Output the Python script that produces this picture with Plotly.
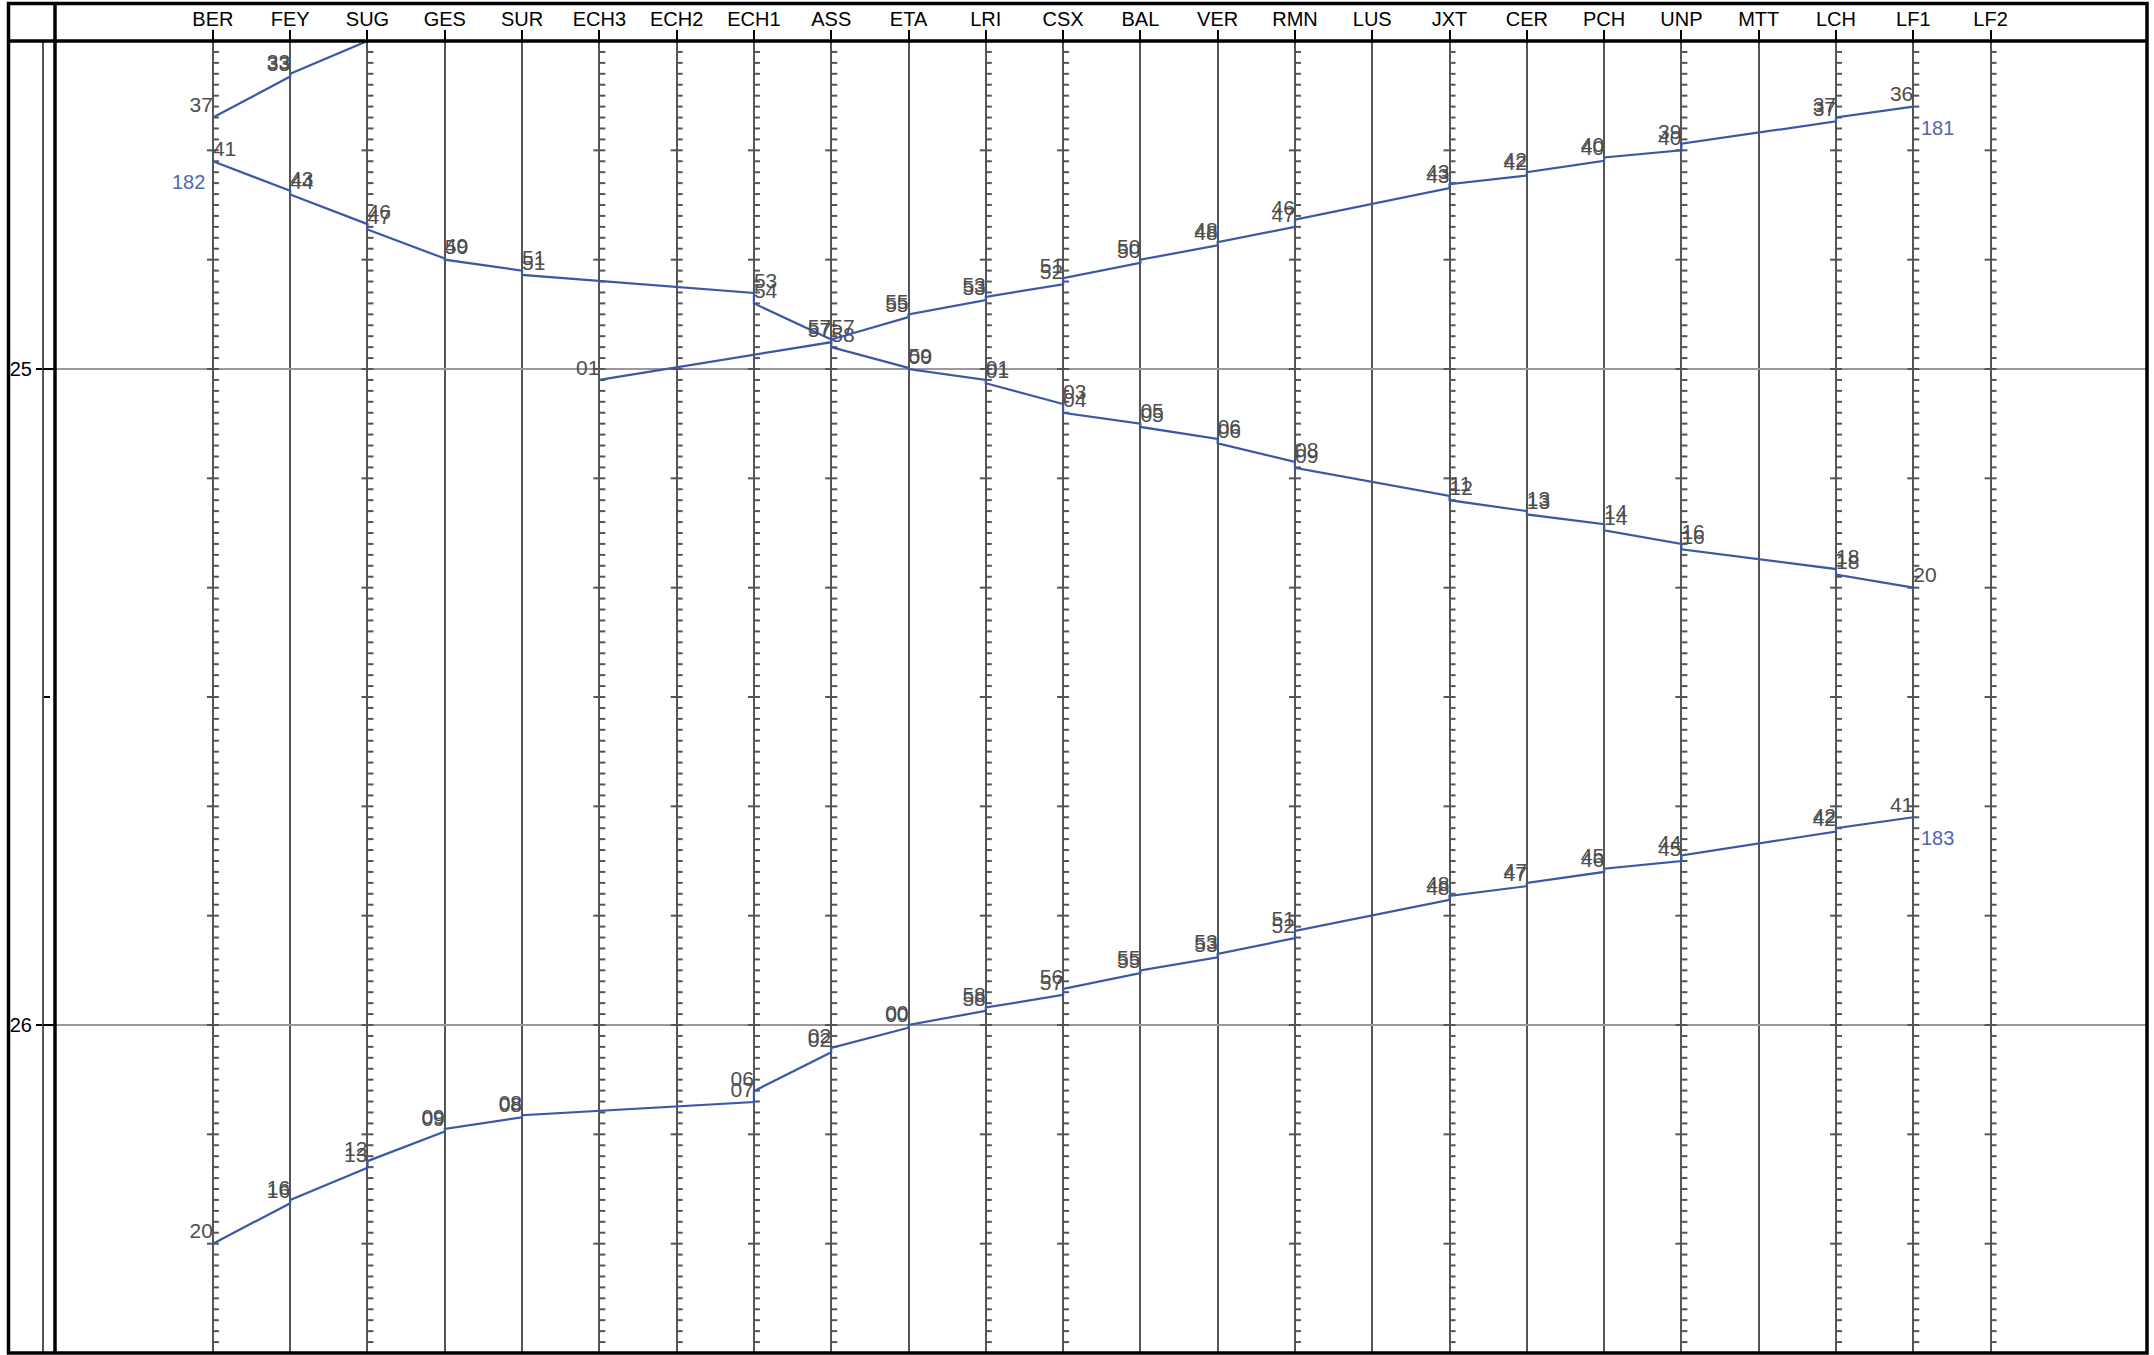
import math
import plotly.graph_objects as go

# ---------------- data ----------------
stations = ["BER", "FEY", "SUG", "GES", "SUR", "ECH3", "ECH2", "ECH1", "ASS", "ETA",
            "LRI", "CSX", "BAL", "VER", "RMN", "LUS", "JXT", "CER", "PCH", "UNP",
            "MTT", "LCH", "LF1", "LF2"]
# stations drawn with minute ticks on their line
station_has_ticks = [1, 0, 1, 0, 0, 1, 1, 1, 1, 0, 1, 1, 0, 0, 1, 0, 1, 0, 0, 1, 0, 1, 1, 1]

# times are minutes after 24:00 (i.e. 30 = 00:30 of the next day)
train_x_name = ""
train_x_stops = ["SUG", "FEY", "BER"]
train_x_arr = [None, 33.0, 37.0]
train_x_dep = [30.0, 33.25, None]

train_182_name = "182"
train_182_stops = ["BER", "FEY", "SUG", "GES", "SUR", "ECH1", "ASS", "ETA", "LRI", "CSX",
                   "BAL", "VER", "RMN", "JXT", "CER", "PCH", "UNP", "LCH", "LF1"]
train_182_arr = [None, 43.7, 46.75, 49.9, 51.0, 53.05, 57.3, 59.9, 61.0, 63.2,
                 65.0, 66.4, 68.5, 71.6, 73.0, 74.2, 76.0, 78.3, 80.0]
train_182_dep = [41.0, 44.05, 47.25, 50.0, 51.4, 54.0, 58.0, 60.0, 61.3, 64.0,
                 65.3, 66.8, 69.05, 72.0, 73.3, 74.75, 76.5, 78.8, None]

train_181_name = "181"
train_181_stops = ["LF1", "LCH", "UNP", "PCH", "CER", "JXT", "RMN", "VER", "BAL", "CSX",
                   "LRI", "ETA", "ASS", "ECH3"]
train_181_arr = [None, 37.0, 39.4, 40.65, 42.0, 43.1, 46.35, 48.4, 50.0, 51.7,
                 53.4, 55.0, 57.3, 61.0]
train_181_dep = [36.0, 37.35, 40.0, 40.95, 42.3, 43.45, 47.0, 48.7, 50.3, 52.25,
                 53.7, 55.25, 57.55, None]

train_183_name = "183"
train_183_stops = ["LF1", "LCH", "UNP", "PCH", "CER", "JXT", "RMN", "VER", "BAL", "CSX",
                   "LRI", "ETA", "ASS", "ECH1", "SUR", "GES", "SUG", "FEY", "BER"]
train_183_arr = [None, 102.0, 104.5, 105.7, 107.0, 108.2, 111.4, 113.5, 115.0, 116.7,
                 118.4, 120.0, 122.1, 126.05, 128.25, 129.5, 132.45, 136.0, 140.0]
train_183_dep = [101.0, 102.3, 105.0, 106.0, 107.3, 108.55, 112.05, 113.8, 115.25, 117.25,
                 118.7, 120.25, 122.5, 127.05, 128.45, 129.75, 133.05, 136.3, None]

hour_ticks = [25, 26]
hour_labels = ["25", "26"]
half_hour_ticks = [24.5, 25.5, 26.5]
time_start, time_end = 24.5, 26.5   # hours

trains = [
    (train_x_name, train_x_stops, train_x_arr, train_x_dep),
    (train_182_name, train_182_stops, train_182_arr, train_182_dep),
    (train_181_name, train_181_stops, train_181_arr, train_181_dep),
    (train_183_name, train_183_stops, train_183_arr, train_183_dep),
]

# ---------------- styling / geometry ----------------
W, H = 2154, 1355
FONT = "Liberation Sans, Arial, sans-serif"
LINE_COLOR = "#3a58a6"
NUM_COLOR = "#4f67b0"
LABEL_COLOR = "#4d4d4d"
STATION_COLOR = "#555555"

m_l, m_r, m_t, m_b = 43, 7, 41, 2
plot_w = W - m_l - m_r
plot_h = H - m_t - m_b
plot_left_px = 55          # left edge of the x axis domain
ber_px, spacing_px = 212.9, 77.29
x_lo = -(ber_px - plot_left_px) / spacing_px
x_hi = x_lo + (W - m_r - plot_left_px) / spacing_px
xdom0 = (plot_left_px - m_l) / plot_w


def px_x(px):
    return (px - m_l) / plot_w


def px_y(py):
    return (H - m_b - py) / plot_h


def hrs(m):
    return 24 + m / 60.0


idx = {s: i for i, s in enumerate(stations)}
unit = 1.0 / spacing_px    # data units per pixel along x

fig = go.Figure()

# minute ticks on station lines
minor_x, minor_y, major_x, major_y = [], [], [], []
n_min = int(round((time_end - time_start) * 60))
for i, (s, has) in enumerate(zip(stations, station_has_ticks)):
    if not has:
        continue
    for k in range(n_min + 1):
        t = time_start + k / 60.0
        if k % 10 == 0:
            major_x += [i - 6 * unit, i + 6 * unit, None]
            major_y += [t, t, None]
        else:
            minor_x += [i, i + 6 * unit, None]
            minor_y += [t, t, None]
fig.add_trace(go.Scatter(x=minor_x, y=minor_y, mode="lines",
                         line=dict(color=STATION_COLOR, width=2), hoverinfo="skip",
                         showlegend=False))
fig.add_trace(go.Scatter(x=major_x, y=major_y, mode="lines",
                         line=dict(color=STATION_COLOR, width=2), hoverinfo="skip",
                         showlegend=False))

annotations = []
for name, stops, arr, dep in trains:
    xs, ys = [], []
    lx, ly, lt = [], [], []
    for s, a, d in zip(stops, arr, dep):
        for v in (a, d):
            if v is None:
                continue
            xs.append(idx[s])
            ys.append(hrs(v))
            lx.append(idx[s])
            ly.append(hrs(v))
            lt.append("%02d" % (int(math.floor(v + 1e-9)) % 60))
    right = idx[stops[-1]] > idx[stops[0]]
    fig.add_trace(go.Scatter(x=xs, y=ys, mode="lines",
                             line=dict(color=LINE_COLOR, width=2.2),
                             showlegend=False, hoverinfo="skip"))
    fig.add_trace(go.Scatter(x=lx, y=ly, mode="text", text=lt,
                             textposition="top right" if right else "top left",
                             textfont=dict(family=FONT, size=21, color=LABEL_COLOR),
                             showlegend=False, hoverinfo="skip", cliponaxis=True))
    if name:
        annotations.append(dict(
            x=idx[stops[0]], y=hrs(dep[0]), xref="x", yref="y", text=name,
            showarrow=False, xanchor="right" if right else "left", yanchor="top",
            xshift=-6 if right else 6, yshift=-8,
            font=dict(family=FONT, size=20, color=NUM_COLOR)))

shapes = []
BLACK = "#000000"
# outer frame
shapes.append(dict(type="rect", xref="paper", yref="paper",
                   x0=px_x(8.5), x1=px_x(W - m_r), y0=px_y(H - m_b), y1=px_y(3.5),
                   line=dict(color=BLACK, width=3.5), layer="above"))
# header separator
shapes.append(dict(type="line", xref="paper", yref="paper",
                   x0=px_x(8.5), x1=px_x(W - m_r), y0=1, y1=1,
                   line=dict(color=BLACK, width=3.5), layer="above"))
# left column separator
shapes.append(dict(type="line", xref="paper", yref="paper",
                   x0=xdom0, x1=xdom0, y0=0, y1=px_y(3.5),
                   line=dict(color=BLACK, width=3.5), layer="above"))
# inner part of the hour ticks
for hv in hour_ticks:
    shapes.append(dict(type="line", xref="paper", yref="y",
                       x0=0, x1=xdom0, y0=hv, y1=hv,
                       line=dict(color=BLACK, width=2), layer="above"))

fig.update_layout(
    width=W, height=H,
    margin=dict(l=m_l, r=m_r, t=m_t, b=m_b, pad=0),
    paper_bgcolor="white", plot_bgcolor="white",
    font=dict(family=FONT, size=20, color="black"),
    shapes=shapes, annotations=annotations,
    xaxis=dict(
        domain=[xdom0, 1], range=[x_lo, x_hi], side="top",
        tickmode="array", tickvals=list(range(len(stations))), ticktext=stations,
        ticks="outside", ticklen=10, tickwidth=2, tickcolor=BLACK,
        ticklabelstandoff=-4,
        tickfont=dict(family=FONT, size=20, color=BLACK),
        showgrid=True, gridcolor=STATION_COLOR, gridwidth=2,
        zeroline=False, showline=False, fixedrange=True,
    ),
    yaxis=dict(
        range=[time_end, time_start], anchor="free", position=0,
        tickmode="array", tickvals=hour_ticks, ticktext=hour_labels,
        ticks="outside", ticklen=6, tickwidth=2, tickcolor=BLACK,
        tickfont=dict(family=FONT, size=20, color=BLACK),
        showline=True, linecolor=STATION_COLOR, linewidth=2,
        showgrid=True, gridcolor="#9a9a9a", gridwidth=2,
        zeroline=False, fixedrange=True,
        minor=dict(tickmode="array", tickvals=half_hour_ticks, ticks="inside",
                   ticklen=6, tickwidth=2, tickcolor=BLACK, showgrid=False),
    ),
)

fig.write_html("out.html", config={"displayModeBar": False},
               post_script="document.body.style.margin='0px';")
